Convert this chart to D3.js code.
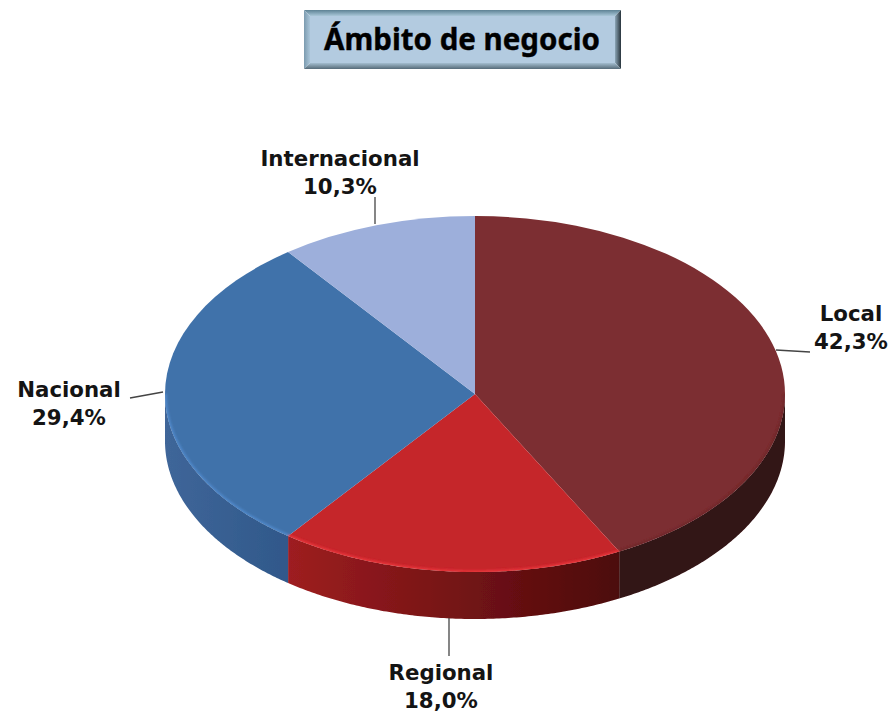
<!DOCTYPE html>
<html><head><meta charset="utf-8">
<script src="https://cdn.jsdelivr.net/npm/d3@7"></script>
<style>html,body{margin:0;padding:0;background:#fff}svg{display:block}text{font-family:"DejaVu Sans",sans-serif;font-weight:bold}</style>
</head><body><svg id="c" width="891" height="712"></svg>
<script>
(function(){
const categories=["Local","Regional","Nacional","Internacional"];
const values=[42.3,18.0,29.4,10.3];
const valueLabels=["42,3%","18,0%","29,4%","10,3%"];
const topColors=["#7c2e31","#c5252a","#4172aa","#9dafdb"];
const rimColors=["#6e282a","#e8353a","#4f88ca","#9dafdb"];
const sideFrom=["#331213","#9e1d20","#3f6699","#333"];
const sideTo=["#331213","#4c0a0b","#30588a","#333"];
const title="Ámbito de negocio";

const cx=475,cy=394,rx=310,ry=178,depth=47;
const svg=d3.select("#c");
const defs=svg.append("defs");
defs.append("filter").attr("id","soft").attr("x","-5%").attr("y","-5%").attr("width","110%").attr("height","110%")
  .append("feGaussianBlur").attr("stdDeviation",0.6);
defs.append("filter").attr("id","rim").attr("x","-5%").attr("y","-5%").attr("width","110%").attr("height","110%")
  .append("feGaussianBlur").attr("stdDeviation",1.1);
defs.append("clipPath").attr("id","faceClip").append("ellipse")
  .attr("cx",cx).attr("cy",cy).attr("rx",rx).attr("ry",ry);

const pie=d3.pie().sort(null).value(d=>d)(values);
const px=a=>cx+rx*Math.sin(a), py=a=>cy-ry*Math.cos(a);
const chart=svg.append("g").attr("filter","url(#soft)");

const vis0=Math.PI/2,vis1=Math.PI*1.5;
const side=d3.area().x(a=>px(a)).y0(a=>py(a)).y1(a=>py(a)+depth);
pie.forEach((s,i)=>{
  const a0=Math.max(s.startAngle,vis0),a1=Math.min(s.endAngle,vis1);
  if(a1<=a0)return;
  const xs=[px(a0),px(a1)];
  const g=defs.append("linearGradient").attr("id","side"+i).attr("gradientUnits","userSpaceOnUse")
    .attr("x1",d3.min(xs)).attr("x2",d3.max(xs)).attr("y1",0).attr("y2",0);
  g.append("stop").attr("offset",0).attr("stop-color",sideFrom[i]);
  g.append("stop").attr("offset",1).attr("stop-color",sideTo[i]);
  chart.append("path").attr("d",side(d3.range(0,121).map(k=>a0+(a1-a0)*k/120))).attr("fill",`url(#side${i})`);
});

const arc=d3.arc().innerRadius(0).outerRadius(rx);
const faces=chart.append("g").attr("transform",`translate(${cx},${cy}) scale(1,${ry/rx})`);
faces.selectAll("path").data(pie).join("path").attr("d",arc).attr("fill",(d,i)=>topColors[i]);

const rimLine=d3.line().x(a=>px(a)).y(a=>py(a));
const rimClip=chart.append("g").attr("clip-path","url(#faceClip)");
const rims=rimClip.append("g").attr("filter","url(#rim)").attr("fill","none").attr("stroke-width",3.5);
pie.forEach((s,i)=>{
  const a0=Math.max(s.startAngle,vis0),a1=Math.min(s.endAngle,vis1);
  if(a1<=a0)return;
  rims.append("path").attr("d",rimLine(d3.range(0,121).map(k=>a0+(a1-a0)*k/120)))
    .attr("stroke",rimColors[i]);
});

const leaders=[[[776,350],[810,352]],[[449,618],[449,656]],[[130,398],[163,392]],[[375,197],[375,224]]];
svg.append("g").selectAll("path").data(leaders).join("path")
  .attr("d",d=>d3.line()(d)).attr("fill","none").attr("stroke","#444").attr("stroke-width",1.3);

const labelPos=[[851,321],[441,680],[69,397],[340,166]];
const lab=svg.append("g").attr("fill","#141414").attr("font-size",21.3).attr("text-anchor","middle");
categories.forEach((c,i)=>{
  lab.append("text").attr("x",labelPos[i][0]).attr("y",labelPos[i][1]).text(c);
  lab.append("text").attr("x",labelPos[i][0]).attr("y",labelPos[i][1]+28).text(valueLabels[i]);
});

const bx=304,by=10,bw=317,bh=59,b=6;
const bevel=(id,x1,y1,x2,y2,c1,c2)=>{
  const g=defs.append("linearGradient").attr("id",id).attr("x1",x1).attr("y1",y1).attr("x2",x2).attr("y2",y2);
  g.append("stop").attr("offset",0).attr("stop-color",c1);
  g.append("stop").attr("offset",1).attr("stop-color",c2);
  return `url(#${id})`;
};
const plate=svg.append("g");
const poly=(p,f)=>plate.append("polygon").attr("points",p.map(q=>q.join(",")).join(" ")).attr("fill",f);
poly([[bx,by],[bx+bw,by],[bx+bw-b,by+b],[bx+b,by+b]],bevel("bT",0,0,0,1,"#5d8294","#a9c7d8"));
poly([[bx,by],[bx+b,by+b],[bx+b,by+bh-b],[bx,by+bh]],bevel("bL",0,0,1,0,"#7c9baf","#a9c5d9"));
poly([[bx+bw,by],[bx+bw,by+bh],[bx+bw-b,by+bh-b],[bx+bw-b,by+b]],bevel("bR",0,0,1,0,"#8ba5b6","#28343c"));
poly([[bx,by+bh],[bx+b,by+bh-b],[bx+bw-b,by+bh-b],[bx+bw,by+bh]],bevel("bB",0,0,0,1,"#a3bdcf","#566b79"));
plate.append("rect").attr("x",bx+b).attr("y",by+b).attr("width",bw-2*b).attr("height",bh-2*b).attr("fill","#b3cbe0");
svg.append("text").attr("x",462).attr("y",49.5).attr("text-anchor","middle").attr("font-size",29.5)
  .attr("fill","#000").attr("stroke","#000").attr("stroke-width",0.4).style("font-family",'"Noto Sans",sans-serif').text(title);
})();
</script></body></html>
